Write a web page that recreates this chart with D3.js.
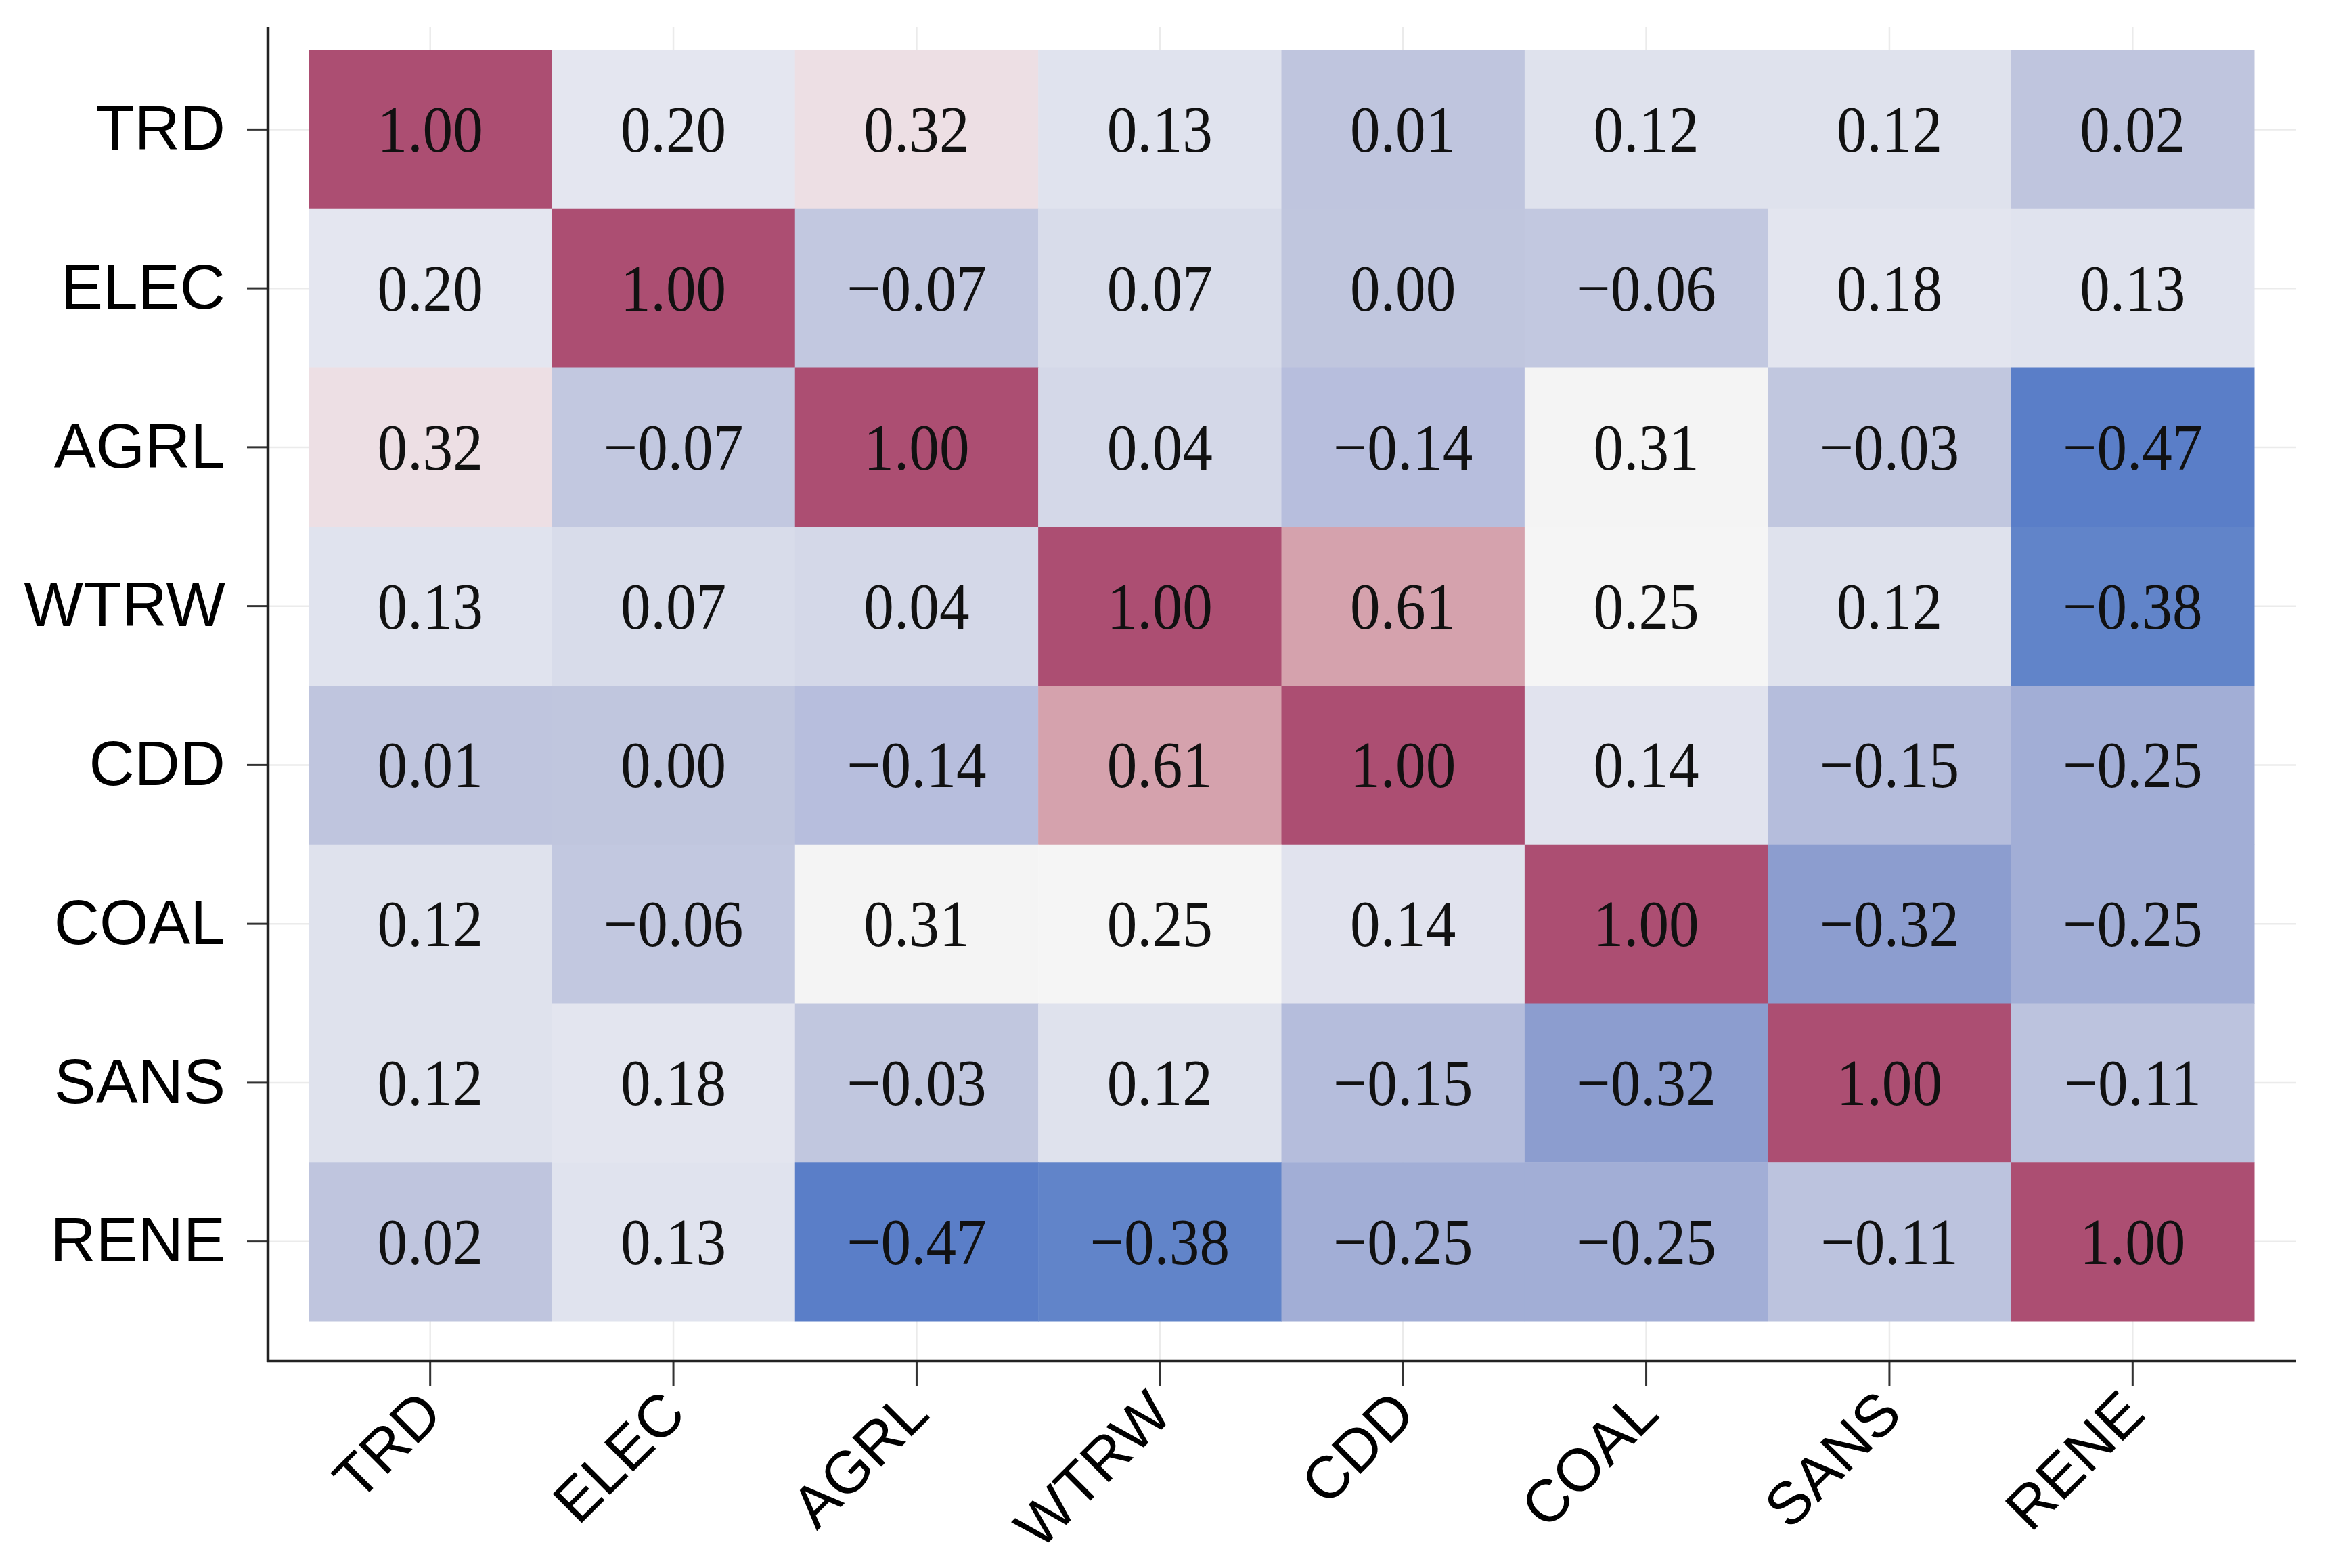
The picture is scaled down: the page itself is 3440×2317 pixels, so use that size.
<!DOCTYPE html>
<html>
<head>
<meta charset="utf-8">
<script src="https://cdn.jsdelivr.net/npm/d3@7"></script>
<style>
  html, body { margin: 0; padding: 0; background: #fff; }
  svg { display: block; }
</style>
</head>
<body>
<svg id="heatmap"></svg>
<script>
// variable names, same order on both axes
const vars = ['TRD', 'ELEC', 'AGRL', 'WTRW', 'CDD', 'COAL', 'SANS', 'RENE'];

// correlation matrix, one row per variable
const rowTRD  = [1.00, 0.20, 0.32, 0.13, 0.01, 0.12, 0.12, 0.02];
const rowELEC = [0.20, 1.00, -0.07, 0.07, 0.00, -0.06, 0.18, 0.13];
const rowAGRL = [0.32, -0.07, 1.00, 0.04, -0.14, 0.31, -0.03, -0.47];
const rowWTRW = [0.13, 0.07, 0.04, 1.00, 0.61, 0.25, 0.12, -0.38];
const rowCDD  = [0.01, 0.00, -0.14, 0.61, 1.00, 0.14, -0.15, -0.25];
const rowCOAL = [0.12, -0.06, 0.31, 0.25, 0.14, 1.00, -0.32, -0.25];
const rowSANS = [0.12, 0.18, -0.03, 0.12, -0.15, -0.32, 1.00, -0.11];
const rowRENE = [0.02, 0.13, -0.47, -0.38, -0.25, -0.25, -0.11, 1.00];
const rows = [rowTRD, rowELEC, rowAGRL, rowWTRW, rowCDD, rowCOAL, rowSANS, rowRENE];

const width = 3440, height = 2317;
const panel = { left: 396, top: 40, right: 3393, bottom: 2011 };
const tiles = { left: 456, top: 74, right: 3331, bottom: 1952 };

const svg = d3.select('#heatmap').attr('width', width).attr('height', height);
svg.append('rect').attr('width', width).attr('height', height).attr('fill', '#fff');

const x = d3.scaleBand().domain(vars).range([tiles.left, tiles.right]).padding(0);
const y = d3.scaleBand().domain(vars).range([tiles.top, tiles.bottom]).padding(0);

// diverging fill, blue for negative, near white around 0.25-0.31, magenta at 1
const color = d3.scaleLinear()
    .domain([-0.47, -0.38, -0.32, -0.25, -0.15, -0.07, 0.02, 0.03, 0.13, 0.20, 0.25, 0.31, 0.32, 0.61, 1.00])
    .range(['#5a7ec8', '#6184c9', '#8c9dcf', '#a2aed6', '#b5bddc', '#c2c8e0', '#bfc5de', '#d3d7e7',
             '#e0e3ee', '#e4e6f0', '#f5f5f5', '#f4f4f4', '#eddfe4', '#d5a2ad', '#ac4e72'])
    .clamp(true);

const cells = [];
rows.forEach((r, i) => r.forEach((v, j) => cells.push({ row: vars[i], col: vars[j], value: v })));

// faint grid lines behind the tiles
const grid = svg.append('g').attr('stroke', '#ebebeb').attr('stroke-width', 2.5);
grid.selectAll('.gx').data(vars).enter().append('line')
    .attr('x1', d => x(d) + x.bandwidth() / 2).attr('x2', d => x(d) + x.bandwidth() / 2)
    .attr('y1', panel.top).attr('y2', panel.bottom);
grid.selectAll('.gy').data(vars).enter().append('line')
    .attr('y1', d => y(d) + y.bandwidth() / 2).attr('y2', d => y(d) + y.bandwidth() / 2)
    .attr('x1', panel.left).attr('x2', panel.right);

const g = svg.append('g');
g.selectAll('rect.tile').data(cells).enter().append('rect')
    .attr('class', 'tile')
    .attr('x', d => x(d.col))
    .attr('y', d => y(d.row))
    .attr('width', x.bandwidth() + 0.5)
    .attr('height', y.bandwidth() + 0.5)
    .attr('fill', d => color(d.value));

const fmt = d3.format('.2f');
g.selectAll('text.val').data(cells).enter().append('text')
    .attr('class', 'val')
    .attr('transform', d => 'translate(' + (x(d.col) + x.bandwidth() / 2) + ',' + (y(d.row) + y.bandwidth() / 2) + ') scale(0.92,1)')
    .attr('dy', '0.34em')
    .attr('text-anchor', 'middle')
    .style('font-family', '"Liberation Serif", "Times New Roman", serif')
    .style('font-size', '97px')
    .style('fill', '#111')
    .text(d => fmt(d.value));

// y axis
const yAxisG = svg.append('g')
    .attr('transform', 'translate(' + panel.left + ',0)')
    .call(d3.axisLeft(y).tickSize(31).tickPadding(32))
    .call(a => {
        a.select('.domain').remove();
        a.selectAll('.tick line').attr('stroke', '#333').attr('stroke-width', 3);
        a.selectAll('.tick text')
            .style('font-family', '"Liberation Sans", Arial, sans-serif')
            .style('font-size', '93px')
            .attr('fill', '#000');
    });
yAxisG.append('line')
    .attr('x1', 0).attr('x2', 0).attr('y1', panel.top).attr('y2', panel.bottom + 2)
    .attr('stroke', '#222').attr('stroke-width', 4.5);

// x axis
const xAxisG = svg.append('g')
    .attr('transform', 'translate(0,' + panel.bottom + ')')
    .call(d3.axisBottom(x).tickSize(37))
    .call(a => {
        a.select('.domain').remove();
        a.selectAll('.tick line').attr('stroke', '#333').attr('stroke-width', 3);
        a.selectAll('.tick text')
            .attr('x', 0).attr('y', 0).attr('dy', 0)
            .attr('transform', 'translate(22,82) rotate(-45)')
            .attr('text-anchor', 'end')
            .style('font-family', '"Liberation Sans", Arial, sans-serif')
            .style('font-size', '88px')
            .attr('fill', '#000');
    });
xAxisG.append('line')
    .attr('x1', panel.left - 2).attr('x2', panel.right).attr('y1', 0).attr('y2', 0)
    .attr('stroke', '#222').attr('stroke-width', 4.5);
</script>
</body>
</html>
